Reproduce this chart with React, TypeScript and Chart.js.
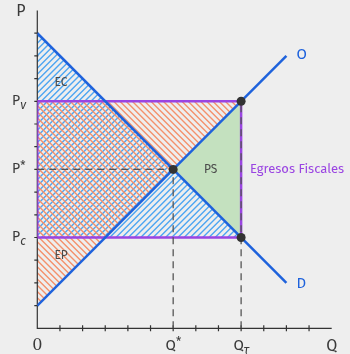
import React, { useEffect, useRef } from "react";
import { Chart, registerables } from "chart.js";

Chart.register(...registerables);

// ---- data ----
const axisMaxQ = 13;
const axisMaxP = 14;
const gridQ = [0, 1, 2, 3, 4, 5, 6, 7, 8, 9, 10, 11, 12];
const gridP = [1, 2, 3, 4, 5, 6, 7, 8, 9, 10, 11, 12, 13];

const demandQ = [0, 11];
const demandP = [13, 2];
const supplyQ = [0, 11];
const supplyP = [1, 12];

const qStar = 6;
const pStar = 7;
const qTau = 9;
const pV = 10;
const pC = 4;

// regions (Q, P pairs)
const blueRegionQ = [0, 9, 0];
const blueRegionP = [13, 4, 4];
const orangeRegionQ = [0, 9, 0];
const orangeRegionP = [1, 10, 10];
const psRegionQ = [6, 9, 9];
const psRegionP = [7, 10, 4];

const rectQ = [0, 9, 9, 0, 0];
const rectP = [4, 4, 10, 10, 4];

const markQ = [qStar, qTau, qTau];
const markP = [pStar, pV, pC];

const BLUE = "#1e62dc";
const BLUE_HATCH = "#4ea6f2";
const ORANGE_HATCH = "#f4916c";
const PURPLE = "#9a44e2";
const GREEN = "#c4e1bf";
const TEXT = "#3a3a3a";
const BG = "#eeeeee";
const SANS = "'Fira Sans', 'Noto Sans', sans-serif";

const toXY = (qs: number[], ps: number[]) => qs.map((q, i) => ({ x: q, y: ps[i] }));

function hatch(ctx: CanvasRenderingContext2D, pts: { x: number; y: number }[], color: string, rising: boolean, s: number) {
  ctx.save();
  ctx.beginPath();
  pts.forEach((p, i) => (i ? ctx.lineTo(p.x, p.y) : ctx.moveTo(p.x, p.y)));
  ctx.closePath();
  ctx.clip();
  const xs = pts.map((p) => p.x);
  const ys = pts.map((p) => p.y);
  const x0 = Math.min(...xs) - 2, x1 = Math.max(...xs) + 2;
  const y0 = Math.min(...ys) - 2, y1 = Math.max(...ys) + 2;
  ctx.strokeStyle = color;
  ctx.lineWidth = 1.4;
  ctx.beginPath();
  if (rising) {
    const cMin = Math.floor((y0 + x0) / s) * s, cMax = y1 + x1;
    for (let c = cMin; c <= cMax; c += s) {
      ctx.moveTo(x0, c - x0);
      ctx.lineTo(x1, c - x1);
    }
  } else {
    const cMin = Math.floor((y0 - x1) / s) * s, cMax = y1 - x0;
    for (let c = cMin; c <= cMax; c += s) {
      ctx.moveTo(x0, x0 + c);
      ctx.lineTo(x1, x1 + c);
    }
  }
  ctx.stroke();
  ctx.restore();
}

const drawPlugin = {
  id: "econ",
  beforeDraw(chart: any) {
    const ctx = chart.ctx;
    ctx.save();
    ctx.fillStyle = BG;
    ctx.fillRect(0, 0, chart.width, chart.height);
    ctx.restore();
  },
  beforeDatasetsDraw(chart: any) {
    const ctx: CanvasRenderingContext2D = chart.ctx;
    const xs = chart.scales.x, ys = chart.scales.y;
    const px = (q: number) => xs.getPixelForValue(q);
    const py = (p: number) => ys.getPixelForValue(p);
    const poly = (qs: number[], ps: number[]) => qs.map((q, i) => ({ x: px(q), y: py(ps[i]) }));

    ctx.save();
    ctx.fillStyle = GREEN;
    ctx.beginPath();
    poly(psRegionQ, psRegionP).forEach((p, i) => (i ? ctx.lineTo(p.x, p.y) : ctx.moveTo(p.x, p.y)));
    ctx.closePath();
    ctx.fill();
    ctx.restore();

    hatch(ctx, poly(blueRegionQ, blueRegionP), BLUE_HATCH, true, 6.2);
    hatch(ctx, poly(orangeRegionQ, orangeRegionP), ORANGE_HATCH, false, 6.2);

    const ox = px(0), oy = py(0);
    ctx.save();
    ctx.strokeStyle = "#333";
    ctx.lineWidth = 1.2;
    ctx.beginPath();
    ctx.moveTo(ox, py(axisMaxP));
    ctx.lineTo(ox, oy);
    ctx.lineTo(px(axisMaxQ), oy);
    gridQ.forEach((q) => {
      if (q === 0) return;
      ctx.moveTo(px(q), oy - 3);
      ctx.lineTo(px(q), oy + 3);
    });
    gridP.forEach((p) => {
      ctx.moveTo(ox - 3, py(p));
      ctx.lineTo(ox + 1, py(p));
    });
    ctx.stroke();
    ctx.restore();
  },
  afterDatasetsDraw(chart: any) {
    const ctx: CanvasRenderingContext2D = chart.ctx;
    const xs = chart.scales.x, ys = chart.scales.y;
    const px = (q: number) => xs.getPixelForValue(q);
    const py = (p: number) => ys.getPixelForValue(p);
    ctx.save();
    ctx.textBaseline = "middle";
    ctx.fillStyle = TEXT;

    ctx.textAlign = "center";
    ctx.font = `16px ${SANS}`;
    ctx.fillText("P", 21, 12);
    ctx.fillText("Q", px(axisMaxQ), py(0) + 18);
    ctx.font = `16px 'DejaVu Serif', serif`;
    ctx.fillText("0", px(0), py(0) + 18);

    const xLab = (q: number, sub: string, subItalic: boolean, sup: boolean) => {
      ctx.font = `15px ${SANS}`;
      const wQ = ctx.measureText("Q").width;
      ctx.font = `${subItalic ? "italic " : ""}11px ${SANS}`;
      const wS = ctx.measureText(sub).width;
      const x0 = px(q) - (wQ + wS) / 2;
      ctx.textAlign = "left";
      ctx.font = `15px ${SANS}`;
      ctx.fillText("Q", x0, py(0) + 18);
      ctx.font = `${subItalic ? "italic " : ""}12px ${SANS}`;
      ctx.fillText(sub, x0 + wQ, py(0) + (sup ? 14 : 22));
    };
    xLab(qStar, "*", false, true);
    xLab(qTau, "τ", true, false);

    const yLab = (p: number, sub: string, subItalic: boolean, sup: boolean) => {
      ctx.textAlign = "left";
      ctx.font = `14px ${SANS}`;
      const x0 = 12;
      ctx.fillText("P", x0, py(p));
      const wP = ctx.measureText("P").width;
      ctx.font = `${subItalic ? "italic " : ""}12px ${SANS}`;
      ctx.fillText(sub, x0 + wP, py(p) + (sup ? -3 : 4));
    };
    yLab(pV, "v", true, false);
    yLab(pStar, "*", false, true);
    yLab(pC, "c", true, false);

    ctx.textAlign = "center";
    ctx.font = `12px ${SANS}`;
    ctx.fillStyle = "#4a4a4a";
    ctx.fillText("EC", px(1.05), py(10.8));
    ctx.fillText("EP", px(1.05), py(3.2));
    ctx.fillText("PS", px(7.65), py(pStar));

    ctx.font = `13px ${SANS}`;
    ctx.fillStyle = PURPLE;
    ctx.textAlign = "left";
    ctx.fillText("Egresos Fiscales", px(qTau) + 9, py(pStar));

    ctx.fillStyle = BLUE;
    ctx.font = `15px ${SANS}`;
    ctx.fillText("O", px(supplyQ[1]) + 10, py(supplyP[1] + 0.05));
    ctx.fillText("D", px(demandQ[1]) + 10, py(demandP[1] - 0.05));
    ctx.restore();
  },
};

export default function App() {
  const ref = useRef<HTMLCanvasElement>(null);
  useEffect(() => {
    document.body.style.margin = "0";
    document.body.style.background = BG;
    const canvas = ref.current!;
    const chart = new Chart(canvas, {
      type: "line",
      data: {
        datasets: [
          {
            data: toXY(markQ, markP),
            showLine: false,
            pointRadius: 4.5,
            pointBackgroundColor: "#333",
            pointBorderColor: "#333",
            pointBorderWidth: 0,
            order: 0,
          } as any,
          {
            data: toXY([0, qStar], [pStar, pStar]),
            borderColor: "#555",
            borderWidth: 1.3,
            borderDash: [7, 5],
            pointRadius: 0,
            order: 1,
          },
          {
            data: toXY([qStar, qStar], [0, pStar]),
            borderColor: "#555",
            borderWidth: 1.3,
            borderDash: [7, 5],
            pointRadius: 0,
            order: 1,
          },
          {
            data: toXY([qTau, qTau], [0, pV]),
            borderColor: "#555",
            borderWidth: 1.3,
            borderDash: [7, 5],
            pointRadius: 0,
            order: 1,
          },
          {
            data: toXY(demandQ, demandP),
            borderColor: BLUE,
            borderWidth: 2.5,
            pointRadius: 0,
            order: 2,
          },
          {
            data: toXY(supplyQ, supplyP),
            borderColor: BLUE,
            borderWidth: 2.5,
            pointRadius: 0,
            order: 2,
          },
          {
            data: toXY(rectQ, rectP),
            borderColor: PURPLE,
            borderWidth: 2.5,
            pointRadius: 0,
            order: 3,
          },
        ],
      },
      options: {
        animation: false,
        responsive: false,
        devicePixelRatio: 1,
        layout: { padding: { left: 37.3, right: 18.3, top: 10.5, bottom: 25.7 } },
        plugins: { legend: { display: false }, tooltip: { enabled: false } },
        elements: { line: { tension: 0, fill: false, borderCapStyle: "butt" } },
        scales: {
          x: { type: "linear", min: 0, max: axisMaxQ, display: false },
          y: { type: "linear", min: 0, max: axisMaxP, display: false },
        },
      },
      plugins: [drawPlugin],
    });
    return () => chart.destroy();
  }, []);
  return <canvas ref={ref} width={350} height={354} style={{ display: "block" }} />;
}
